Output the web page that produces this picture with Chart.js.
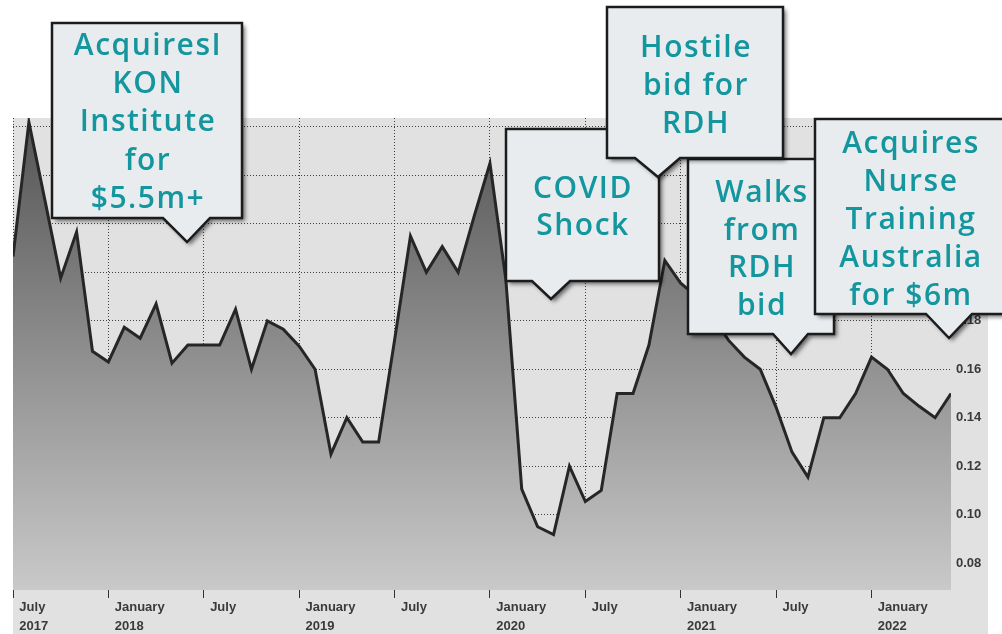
<!DOCTYPE html>
<html>
<head>
<meta charset="utf-8">
<script src="https://cdn.jsdelivr.net/npm/chart.js@4.4.1/dist/chart.umd.min.js"></script>
<style>
  html, body { margin: 0; padding: 0; background: #ffffff; }
  #wrap { width: 1002px; height: 634px; }
</style>
</head>
<body>
<div id="wrap"><canvas id="c" width="1002" height="634"></canvas></div>
<script>
// ---- data (monthly, July 2017 .. June 2022) ----
const months = [
  '2017-07','2017-08','2017-09','2017-10','2017-11','2017-12',
  '2018-01','2018-02','2018-03','2018-04','2018-05','2018-06',
  '2018-07','2018-08','2018-09','2018-10','2018-11','2018-12',
  '2019-01','2019-02','2019-03','2019-04','2019-05','2019-06',
  '2019-07','2019-08','2019-09','2019-10','2019-11','2019-12',
  '2020-01','2020-02','2020-03','2020-04','2020-05','2020-06',
  '2020-07','2020-08','2020-09','2020-10','2020-11','2020-12',
  '2021-01','2021-02','2021-03','2021-04','2021-05','2021-06',
  '2021-07','2021-08','2021-09','2021-10','2021-11','2021-12',
  '2022-01','2022-02','2022-03','2022-04','2022-05','2022-06'
];
const prices = [
  0.2065, 0.262, 0.230, 0.1976, 0.2167, 0.1674, 0.163, 0.1773, 0.1728, 0.187,
  0.1625, 0.170, 0.170, 0.170, 0.1848, 0.160, 0.180, 0.1765, 0.1695, 0.160,
  0.125, 0.140, 0.130, 0.130, 0.172, 0.215, 0.200, 0.2106, 0.200, 0.223,
  0.245, 0.197, 0.1105, 0.095, 0.0918, 0.120, 0.1054, 0.110, 0.150, 0.150,
  0.170, 0.2049, 0.1955, 0.190, 0.182, 0.172, 0.165, 0.160, 0.1443, 0.1258,
  0.1155, 0.140, 0.140, 0.150, 0.165, 0.160, 0.150, 0.1447, 0.140, 0.150
];
const xTickMonths = [0, 6, 12, 18, 24, 30, 36, 42, 48, 54];
const xTickLabels = [
  ['July', '2017'], ['January', '2018'], ['July', ''], ['January', '2019'], ['July', ''],
  ['January', '2020'], ['July', ''], ['January', '2021'], ['July', ''], ['January', '2022']
];
const yTicks = [0.08, 0.10, 0.12, 0.14, 0.16, 0.18, 0.20, 0.22, 0.24, 0.26];
const yMin = 0.0689, yMax = 0.2637;

const calloutTexts = [
  ['AcquiresI', 'KON', 'Institute', 'for', '$5.5m+'],
  ['COVID', 'Shock'],
  ['Walks', 'from', 'RDH', 'bid'],
  ['Hostile', 'bid for', 'RDH'],
  ['Acquires', 'Nurse', 'Training', 'Australia', 'for $6m']
];

// ---- layout of the callouts (pixels) ----
const calloutLayout = [
  { box: [52, 23, 242, 218], ptr: [163, 210, 187, 242], tx: 147, base: 55, lh: 38.2 },
  { box: [506, 129, 659, 281], ptr: [532, 570, 551, 299], tx: 582, base: 198, lh: 37 },
  { box: [688, 159, 834, 334], ptr: [773, 808, 791, 354], tx: 761, base: 202, lh: 37.7 },
  { box: [607, 7, 783, 158], ptr: [635, 680, 658, 177], tx: 695, base: 57, lh: 38 },
  { box: [815, 119, 1010, 314], ptr: [926, 972, 949, 338], tx: 910, base: 153, lh: 38 }
];

const bgPlugin = {
  id: 'bg',
  beforeDraw(chart) {
    const c = chart.ctx;
    c.save();
    c.fillStyle = '#ffffff';
    c.fillRect(0, 0, chart.width, chart.height);
    c.fillStyle = '#e1e1e1';
    c.fillRect(13, 118, 988 - 13, chart.height - 118);
    c.restore();
  }
};

const calloutPlugin = {
  id: 'callouts',
  afterDraw(chart) {
    const c = chart.ctx;
    calloutLayout.forEach((L, k) => {
      const [x1, y1, x2, y2] = L.box;
      const [pl, pr, ax, ay] = L.ptr;
      c.save();
      c.beginPath();
      c.moveTo(x1, y1);
      c.lineTo(x2, y1);
      c.lineTo(x2, y2);
      c.lineTo(pr, y2);
      c.lineTo(ax, ay);
      c.lineTo(pl, y2);
      c.lineTo(x1, y2);
      c.closePath();
      c.shadowColor = 'rgba(0,0,0,0.55)';
      c.shadowBlur = 4;
      c.shadowOffsetX = 3;
      c.shadowOffsetY = 3;
      c.fillStyle = '#e8ecee';
      c.fill();
      c.shadowColor = 'transparent';
      c.lineWidth = 2.5;
      c.lineJoin = 'miter';
      c.strokeStyle = '#1c1c1c';
      c.stroke();
      c.fillStyle = '#14969f';
      c.font = '600 30px "Open Sans", "Noto Sans", sans-serif';
      try { c.letterSpacing = '1.5px'; } catch (e) {}
      c.textAlign = 'center';
      c.textBaseline = 'alphabetic';
      calloutTexts[k].forEach((t, i) => {
        c.fillText(t, L.tx + 1, L.base + i * L.lh);
      });
      c.restore();
    });
  }
};

const gridColor = 'rgba(35,35,35,0.85)';

new Chart(document.getElementById('c'), {
  type: 'line',
  data: {
    labels: months,
    datasets: [{
      data: prices.map((v, i) => ({ x: i, y: v })),
      borderColor: '#262626',
      borderWidth: 3,
      borderJoinStyle: 'miter',
      pointRadius: 0,
      tension: 0,
      fill: 'start',
      backgroundColor: (ctx) => {
        const a = ctx.chart.chartArea;
        if (!a) return '#8a8a8a';
        const g = ctx.chart.ctx.createLinearGradient(0, a.top, 0, a.bottom);
        g.addColorStop(0, '#545454');
        g.addColorStop(1, '#c9c9c9');
        return g;
      }
    }]
  },
  options: {
    responsive: false,
    animation: false,
    devicePixelRatio: 1,
    layout: { padding: { left: 13, top: 118, right: 0, bottom: 0 } },
    plugins: { legend: { display: false }, tooltip: { enabled: false } },
    scales: {
      x: {
        type: 'linear', position: 'bottom', min: 0, max: 59, weight: 0, z: 1,
        afterBuildTicks: (s) => { s.ticks = xTickMonths.map(v => ({ value: v })); },
        afterFit: (s) => { s.height = 8; },
        ticks: { display: false },
        grid: { color: gridColor, lineWidth: 1, drawTicks: true, tickLength: 8, tickColor: '#333', tickBorderDash: [] },
        border: { display: false, dash: [1, 2] }
      },
      xl: {
        type: 'linear', position: 'bottom', min: 0, max: 59, weight: 1,
        afterBuildTicks: (s) => { s.ticks = xTickMonths.map(v => ({ value: v + 0.4 })); },
        afterFit: (s) => { s.height = 36; },
        grid: { display: false },
        border: { display: false },
        ticks: {
          align: 'start', autoSkip: false, maxRotation: 0, minRotation: 0, padding: -8,
          color: '#3a3a3a',
          font: { family: '"Liberation Sans", Arial, sans-serif', size: 13, weight: 'bold', lineHeight: 1.45 },
          callback: (v, i) => xTickLabels[i]
        }
      },
      y: {
        type: 'linear', position: 'right', min: yMin, max: yMax, z: 1,
        afterBuildTicks: (s) => { s.ticks = yTicks.map(v => ({ value: v })); },
        afterFit: (s) => { s.width = 51; },
        grid: { color: gridColor, lineWidth: 1, drawTicks: false },
        border: { display: false, dash: [1, 2] },
        ticks: {
          padding: 5, color: '#3a3a3a',
          font: { family: '"Liberation Sans", Arial, sans-serif', size: 13, weight: 'bold' },
          callback: (v) => Number(v).toFixed(2)
        }
      }
    }
  },
  plugins: [bgPlugin, calloutPlugin]
});
</script>
</body>
</html>
